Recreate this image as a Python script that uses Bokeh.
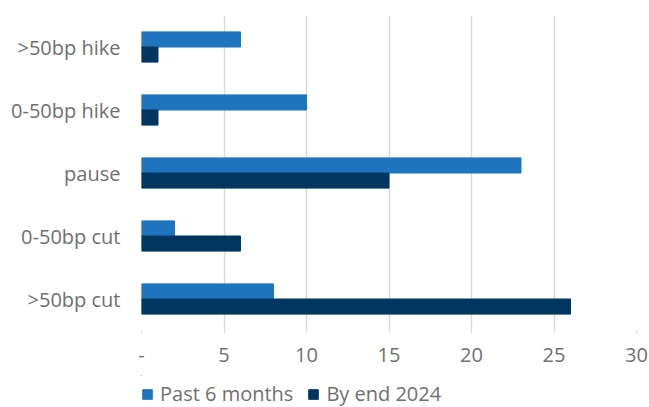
from bokeh.plotting import figure
from bokeh.layouts import column
from bokeh.models import ColumnDataSource, FactorRange, Range1d, FixedTicker, Legend, LegendItem
from bokeh.transform import dodge
from bokeh.embed import file_html
from bokeh.resources import INLINE

categories = [">50bp cut", "0-50bp cut", "pause", "0-50bp hike", ">50bp hike"]
past_6_months = [8, 2, 23, 10, 6]
by_end_2024 = [26, 6, 15, 1, 1]
series_names = ["Past 6 months", "By end 2024"]
x_ticks = [0, 5, 10, 15, 20, 25, 30]
x_tick_labels = {0: "-"}

FONT = "Open Sans"
FS = "20px"
TXT = "#707070"
C1 = "#1f75bd"
C2 = "#00365f"

src = ColumnDataSource(dict(cat=categories, past=past_6_months, end=by_end_2024))

p = figure(width=649, height=375, y_range=FactorRange(*categories), x_range=Range1d(0, 30),
           output_backend="svg", toolbar_location=None,
           min_border_left=141, min_border_right=13, min_border_top=15, min_border_bottom=45)
p.outline_line_color = None

r1 = p.hbar(y=dodge("cat", 0.12, range=p.y_range), right="past", left=0, height=0.24,
            source=src, fill_color=C1, line_color=C1)
r2 = p.hbar(y=dodge("cat", -0.12, range=p.y_range), right="end", left=0, height=0.24,
            source=src, fill_color=C2, line_color=C2)

p.ygrid.grid_line_color = None
p.xgrid.grid_line_color = "#d9d9d9"
p.xgrid.grid_line_width = 1.5
p.xaxis.ticker = FixedTicker(ticks=x_ticks)
p.xaxis.major_label_overrides = x_tick_labels
p.xaxis.axis_line_color = None
p.xaxis.major_tick_line_color = "#d9d9d9"
p.xaxis.major_tick_in = 0
p.xaxis.major_tick_out = 3
p.xaxis.minor_tick_line_color = None
p.xaxis.major_label_standoff = 14
p.xaxis.major_label_text_font = FONT
p.xaxis.major_label_text_font_size = FS
p.xaxis.major_label_text_color = TXT

p.yaxis.axis_line_color = None
p.yaxis.major_tick_line_color = None
p.yaxis.minor_tick_line_color = None
p.yaxis.major_label_standoff = 15
p.yaxis.major_label_text_font = FONT
p.yaxis.major_label_text_font_size = FS
p.yaxis.major_label_text_color = TXT

# legend strip (zero-size swatch renderers only feed the legend)
lg = figure(width=649, height=32, x_range=Range1d(0, 1), y_range=Range1d(0, 1),
            output_backend="svg", toolbar_location=None,
            min_border_left=0, min_border_right=0, min_border_top=0, min_border_bottom=0)
lg.axis.visible = False
lg.grid.visible = False
lg.outline_line_color = None
d1 = lg.hbar(y=[2], left=[0], right=[0], height=0.0, fill_color=C1, line_color=C1)
d2 = lg.hbar(y=[2], left=[0], right=[0], height=0.0, fill_color=C2, line_color=C2)
legend = Legend(items=[LegendItem(label=series_names[0], renderers=[d1], index=0),
                       LegendItem(label=series_names[1], renderers=[d2], index=0)],
                orientation="horizontal", location=(0, 0),
                margin=0, padding=0, border_line_color=None, background_fill_alpha=0,
                glyph_width=12, glyph_height=12, label_standoff=7, spacing=14,
                label_text_font=FONT, label_text_font_size=FS, label_text_color=TXT)
lg.add_layout(legend, "center")

layout = column(p, lg, spacing=0)
open("out.html", "w").write(file_html(layout, INLINE))
